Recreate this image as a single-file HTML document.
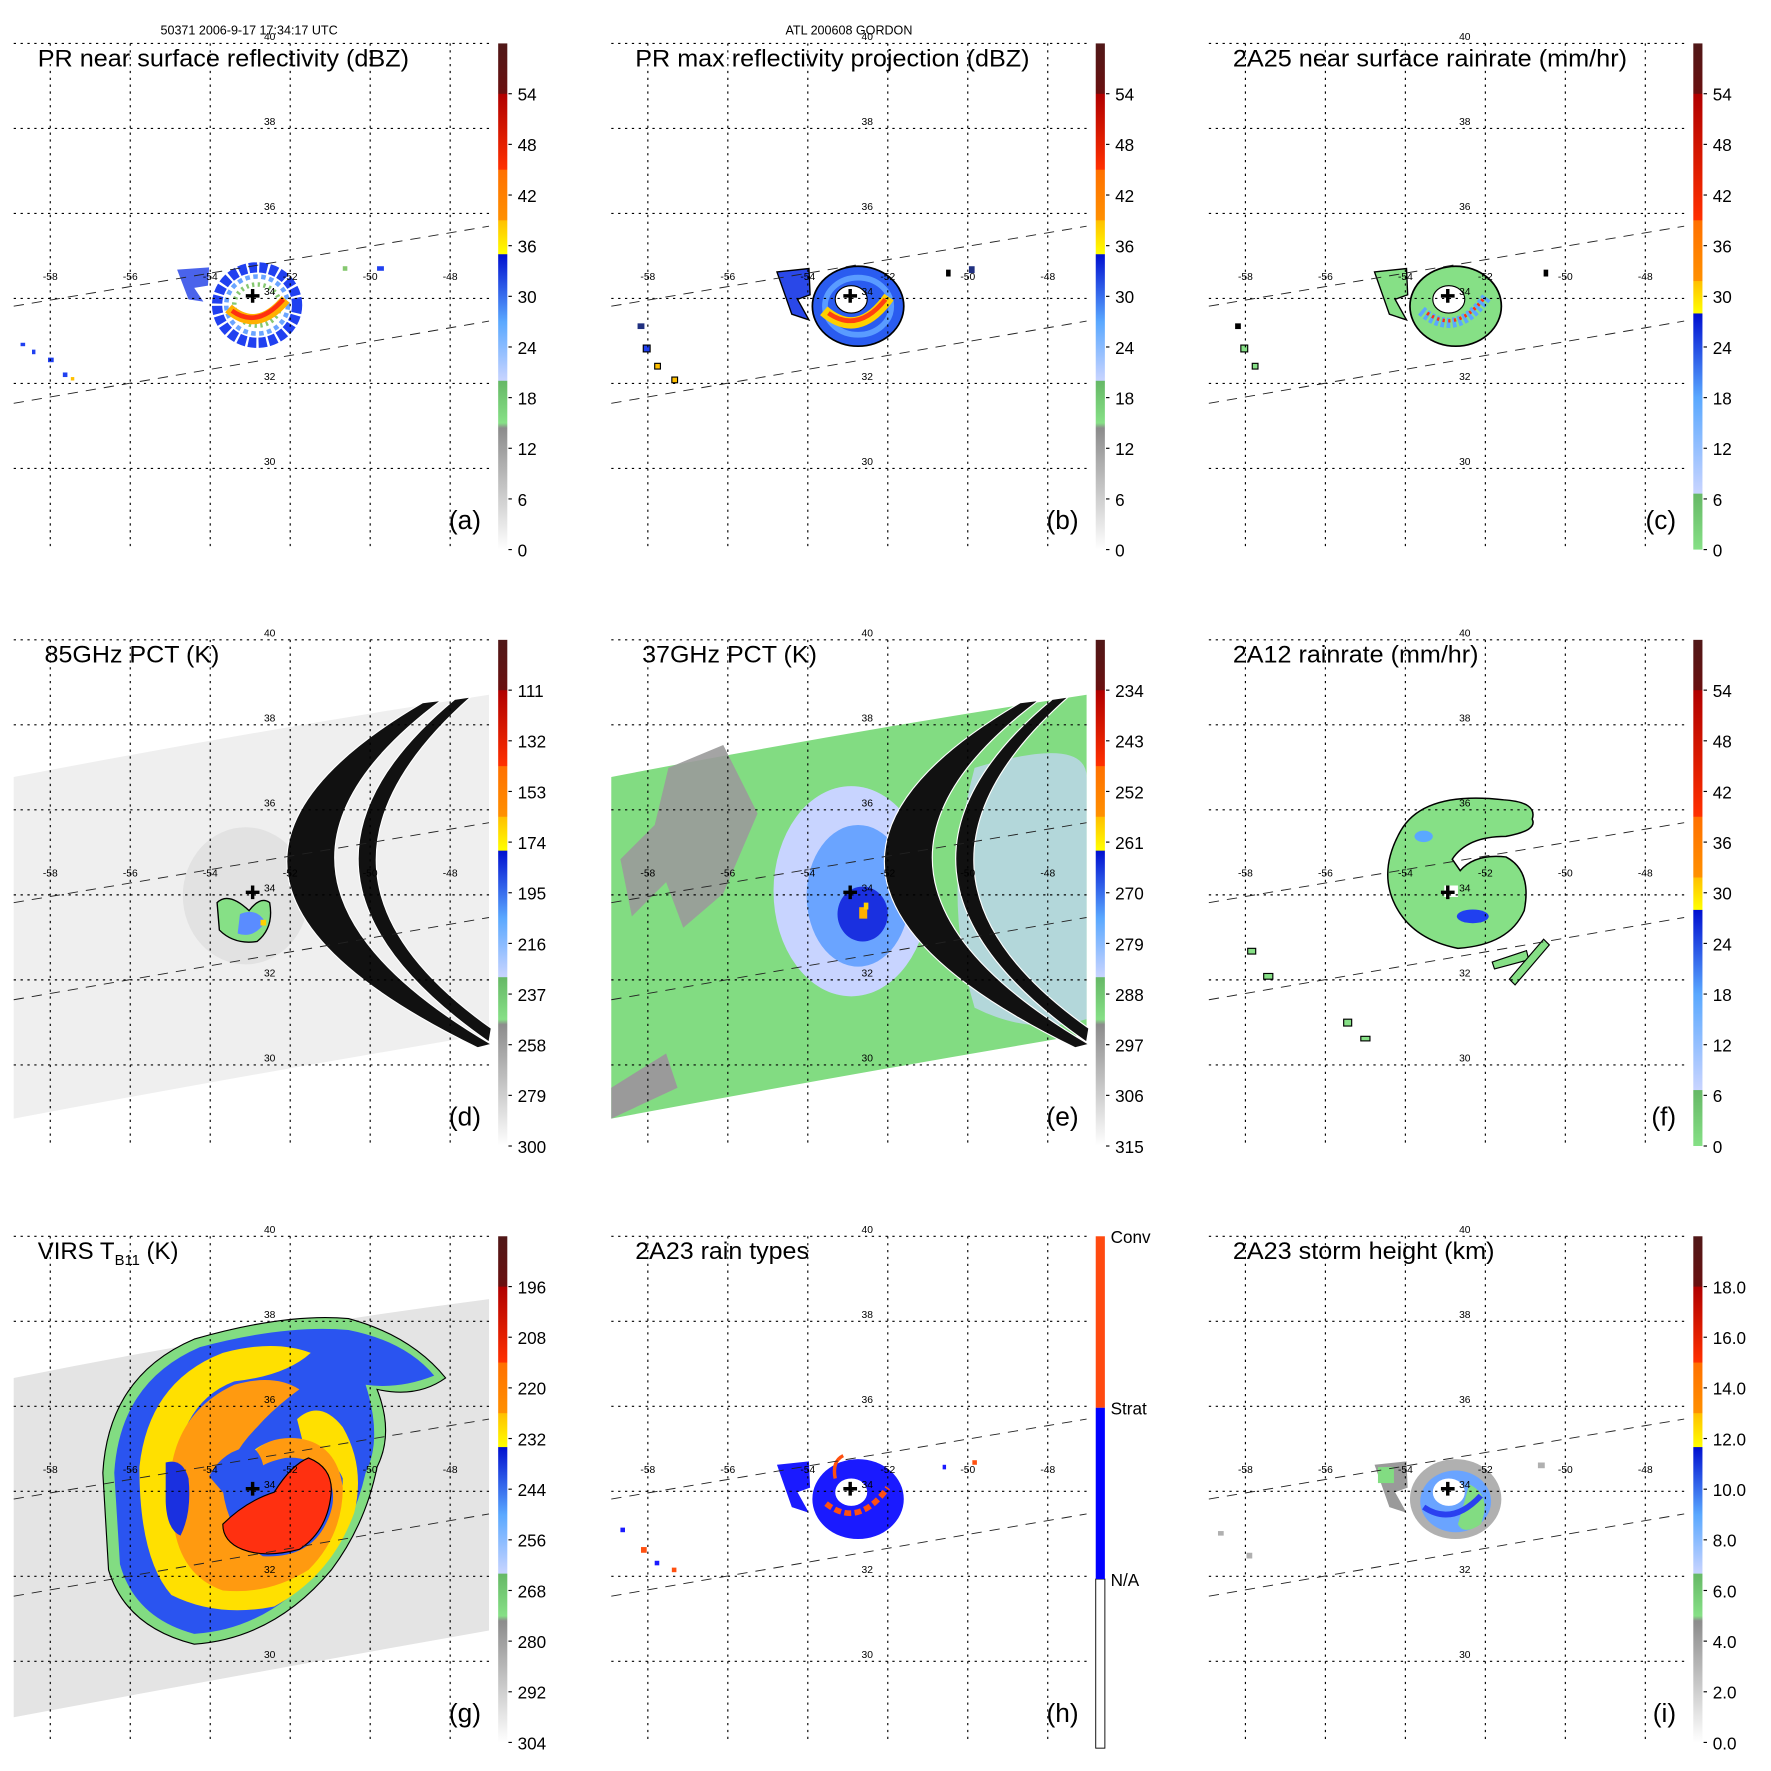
<!DOCTYPE html>
<html><head><meta charset="utf-8"><style>
html,body{margin:0;padding:0;background:#fff;}
svg{display:block;font-family:"Liberation Sans",sans-serif;}
</style></head><body>
<svg id="fig" width="1771" height="1771" viewBox="0 0 1550 1550" xmlns="http://www.w3.org/2000/svg">
<defs>
<linearGradient id="cmStd" x1="0" y1="1" x2="0" y2="0">
<stop offset="0" stop-color="#ffffff"/><stop offset="0.24" stop-color="#8c8c8c"/>
<stop offset="0.25" stop-color="#86e086"/><stop offset="0.333" stop-color="#66b866"/>
<stop offset="0.334" stop-color="#c8d4ff"/><stop offset="0.45" stop-color="#5aa8ff"/><stop offset="0.583" stop-color="#0010d0"/>
<stop offset="0.584" stop-color="#ffff00"/><stop offset="0.65" stop-color="#ffc000"/>
<stop offset="0.651" stop-color="#ff9000"/><stop offset="0.75" stop-color="#ff7000"/>
<stop offset="0.751" stop-color="#ff3000"/><stop offset="0.9" stop-color="#b00000"/>
<stop offset="0.901" stop-color="#6a1010"/><stop offset="1" stop-color="#501818"/>
</linearGradient>
<linearGradient id="cmRain" x1="0" y1="1" x2="0" y2="0">
<stop offset="0" stop-color="#86e086"/><stop offset="0.11" stop-color="#66b866"/>
<stop offset="0.111" stop-color="#c8d4ff"/><stop offset="0.3" stop-color="#5aa8ff"/><stop offset="0.466" stop-color="#0010d0"/>
<stop offset="0.467" stop-color="#ffff00"/><stop offset="0.53" stop-color="#ffc000"/>
<stop offset="0.531" stop-color="#ff9000"/><stop offset="0.65" stop-color="#ff7000"/>
<stop offset="0.651" stop-color="#ff3000"/><stop offset="0.9" stop-color="#b00000"/>
<stop offset="0.901" stop-color="#6a1010"/><stop offset="1" stop-color="#501818"/>
</linearGradient>
</defs>
<text x="218" y="30" font-size="11" text-anchor="middle">50371 2006-9-17 17:34:17 UTC</text>
<text x="743" y="30" font-size="11" text-anchor="middle">ATL 200608 GORDON</text>
</svg>
<script>
// ---- colorbar tick label arrays ----
const ticksA = ["0","6","12","18","24","30","36","42","48","54"];
const ticksD = ["300","279","258","237","216","195","174","153","132","111"];
const ticksE = ["315","306","297","288","279","270","261","252","243","234"];
const ticksG = ["304","292","280","268","256","244","232","220","208","196"];
const ticksI = ["0.0","2.0","4.0","6.0","8.0","10.0","12.0","14.0","16.0","18.0"];
const ticksH = ["N/A","Strat","Conv"];
const gridLons = [-58,-56,-54,-52,-50,-48];
const gridLats = [40,38,36,34,32,30];
const stormCenter = [-52.94, 34.06];

const NS="http://www.w3.org/2000/svg";
const fig=document.getElementById('fig');
function xLon(l){return 44+(l+58)*35;}
function yLat(l){return 38+(40-l)*37.2;}
function el(tag,attrs,parent){const e=document.createElementNS(NS,tag);for(const k in attrs)e.setAttribute(k,attrs[k]);parent.appendChild(e);return e;}

const panels=[
 {id:'a',ox:0,oy:0,title:'PR near surface reflectivity (dBZ)',tx:33,tw:325,cm:'cmStd',ticks:ticksA},
 {id:'b',ox:523,oy:0,title:'PR max reflectivity projection (dBZ)',tx:33,tw:345,cm:'cmStd',ticks:ticksA},
 {id:'c',ox:1046,oy:0,title:'2A25 near surface rainrate (mm/hr)',tx:33,tw:345,cm:'cmRain',ticks:ticksA},
 {id:'d',ox:0,oy:522,title:'85GHz PCT (K)',tx:39,tw:153,cm:'cmStd',ticks:ticksD},
 {id:'e',ox:523,oy:522,title:'37GHz PCT (K)',tx:39,tw:153,cm:'cmStd',ticks:ticksE},
 {id:'f',ox:1046,oy:522,title:'2A12 rainrate (mm/hr)',tx:33,tw:215,cm:'cmRain',ticks:ticksA},
 {id:'g',ox:0,oy:1044,title:'VIRS',tx:33,tw:0,cm:'cmStd',ticks:ticksG},
 {id:'h',ox:523,oy:1044,title:'2A23 rain types',tx:33,tw:152,cm:'h',ticks:ticksH},
 {id:'i',ox:1046,oy:1044,title:'2A23 storm height (km)',tx:33,tw:229,cm:'cmStd',ticks:ticksI}
];

const swathPoly='M12,158 Q220,118 428,86 L428,383 Q220,418 12,457 Z';
const crescents='<path d="M370,93 Q110,245 418,395 L430,392 Q180,245 386,91 Z" fill="#111" stroke="#fff" stroke-width="1"/>'+
 '<path d="M398,90 Q215,242 428,390 L430,378 Q238,242 412,88 Z" fill="#111" stroke="#fff" stroke-width="1"/>';

const art={
a:`<path d="M155,236 L183,234 L182,250 L170,252 L178,264 L165,262 Z" fill="#2a48e8" opacity="0.85"/>
<ellipse cx="225" cy="267" rx="35" ry="33" fill="none" stroke="#2040f0" stroke-width="9" stroke-dasharray="7,2"/>
<ellipse cx="225" cy="267" rx="27" ry="25" fill="none" stroke="#6aa4ff" stroke-width="4" stroke-dasharray="4,3"/>
<ellipse cx="225" cy="267" rx="20" ry="18" fill="none" stroke="#86c870" stroke-width="4" stroke-dasharray="2,3"/>
<path d="M200,270 Q225,292 250,262" fill="none" stroke="#ffb000" stroke-width="9"/>
<path d="M203,272 Q225,288 248,262" fill="none" stroke="#ff3010" stroke-width="4"/>
<rect x="18" y="300" width="4" height="3" fill="#2040f0"/><rect x="28" y="306" width="3" height="4" fill="#2040f0"/>
<rect x="42" y="313" width="5" height="4" fill="#2040f0"/><rect x="55" y="326" width="4" height="4" fill="#2040f0"/>
<rect x="62" y="330" width="3" height="3" fill="#ffc000"/><rect x="300" y="233" width="4" height="4" fill="#86c870"/>
<rect x="330" y="233" width="6" height="4" fill="#2040f0"/>`,
b:`<path d="M157,238 L185,235 L186,258 L175,262 L185,280 L170,275 Z" fill="#2a48e8" stroke="#000" stroke-width="1.2"/>
<ellipse cx="228" cy="268" rx="40" ry="35" fill="#2a5cf0" stroke="#000" stroke-width="1.5"/>
<ellipse cx="228" cy="268" rx="29" ry="25" fill="none" stroke="#5a9cff" stroke-width="5"/>
<path d="M198,272 Q228,298 255,260" fill="none" stroke="#ffd000" stroke-width="10"/>
<path d="M202,274 Q228,292 252,262" fill="none" stroke="#ff4010" stroke-width="4"/>
<ellipse cx="222" cy="262" rx="14" ry="12" fill="#fff" stroke="#000" stroke-width="1"/>
<rect x="35" y="283" width="6" height="5" fill="#203080"/><rect x="40" y="302" width="6" height="6" fill="#2040f0" stroke="#000"/>
<rect x="50" y="318" width="5" height="5" fill="#ffc000" stroke="#000"/><rect x="65" y="330" width="5" height="5" fill="#ffc000" stroke="#000"/>
<rect x="305" y="236" width="4" height="6" fill="#000"/><rect x="325" y="233" width="5" height="6" fill="#203080"/>`,
c:`<path d="M157,238 L185,235 L186,258 L175,262 L185,280 L170,275 Z" fill="#86e086" stroke="#000" stroke-width="1.2"/>
<ellipse cx="228" cy="268" rx="40" ry="35" fill="#86e086" stroke="#000" stroke-width="1.5"/>
<path d="M198,272 Q228,298 255,260" fill="none" stroke="#5aa8ff" stroke-width="9" stroke-dasharray="3,2"/>
<path d="M203,274 Q228,292 252,262" fill="none" stroke="#ff3010" stroke-width="3" stroke-dasharray="2,3"/>
<ellipse cx="222" cy="262" rx="14" ry="12" fill="#fff" stroke="#000" stroke-width="1"/>
<rect x="35" y="283" width="5" height="5" fill="#000"/><rect x="40" y="302" width="6" height="6" fill="#86e086" stroke="#000"/>
<rect x="50" y="318" width="5" height="5" fill="#86e086" stroke="#000"/><rect x="305" y="236" width="4" height="6" fill="#000"/>`,
d:`<path d="${swathPoly}" fill="#efefef"/>
<ellipse cx="215" cy="262" rx="55" ry="60" fill="#d0d0d0" opacity="0.4"/>
<path d="M190,268 Q200,258 218,275 Q228,262 236,268 Q240,290 225,302 Q205,305 192,292 Z" fill="#86e086" stroke="#000" stroke-width="1.2"/>
<path d="M210,278 Q225,272 232,285 Q222,300 208,295 Z" fill="#5a8cff"/>
<rect x="228" y="283" width="5" height="5" fill="#ffd000"/>${crescents}`,
e:`<path d="${swathPoly}" fill="#82dc82"/>
<path d="M62,150 L110,130 L140,190 L110,260 L75,290 L60,250 L30,280 L20,230 L50,200 Z" fill="#9a9a9a" opacity="0.9"/>
<path d="M12,430 L60,400 L70,430 L12,457 Z" fill="#9a9a9a"/>
<ellipse cx="222" cy="258" rx="68" ry="92" fill="#c8d4ff"/>
<ellipse cx="228" cy="262" rx="45" ry="62" fill="#6aa4ff"/>
<ellipse cx="232" cy="278" rx="22" ry="24" fill="#1a30e0"/>
<rect x="229" y="272" width="7" height="10" fill="#ffb000"/><rect x="233" y="268" width="4" height="6" fill="#ffd000"/>
<path d="M330,150 Q430,120 428,160 L428,370 Q380,385 330,360 Q300,260 330,150 Z" fill="#c8d4ff" opacity="0.7"/>${crescents}`,
f:`<path d="M295,195 Q300,180 270,178 Q200,170 180,205 Q160,240 175,270 Q190,300 230,308 Q275,305 288,275 Q295,240 272,228 Q245,225 232,240 L225,230 Q238,210 272,210 Q300,205 295,195 Z" fill="#86e086" stroke="#000" stroke-width="1.3"/>
<rect x="218" y="253" width="12" height="10" fill="#fff"/>
<ellipse cx="243" cy="280" rx="14" ry="6" fill="#2040f0"/><ellipse cx="200" cy="210" rx="8" ry="5" fill="#5aa8ff"/>
<path d="M260,320 L290,310 L292,318 L262,326 Z" fill="#86e086" stroke="#000"/>
<path d="M275,335 L305,300 L310,305 L280,340 Z" fill="#86e086" stroke="#000"/>
<rect x="46" y="308" width="7" height="5" fill="#86e086" stroke="#000"/><rect x="60" y="330" width="8" height="5" fill="#86e086" stroke="#000"/>
<rect x="130" y="370" width="7" height="6" fill="#86e086" stroke="#000"/><rect x="145" y="385" width="8" height="4" fill="#86e086" stroke="#000"/>`,
g:`<path d="M12,162 Q220,120 428,93 L428,383 Q220,420 12,459 Z" fill="#e4e4e4"/>
<path d="M90,245 Q95,160 170,128 Q250,105 305,110 Q360,125 390,162 Q365,180 330,172 Q345,210 330,240 Q320,290 290,330 Q240,390 170,395 Q110,380 95,330 Z" fill="#82dc82" stroke="#000" stroke-width="1"/>
<path d="M100,245 Q105,165 175,135 Q250,115 305,120 Q355,130 380,160 Q350,172 320,168 Q335,215 320,245 Q310,290 282,325 Q235,382 170,386 Q118,372 105,325 Z" fill="#2a54f0"/>
<path d="M122,240 Q130,165 195,140 Q240,128 272,140 Q250,160 205,165 Q165,180 155,230 Q150,300 200,330 Q250,330 280,300 Q300,280 300,250 Q290,225 250,228 Q235,235 225,240 L215,232 Q235,210 265,218 L260,198 Q280,180 300,205 Q320,240 310,280 Q290,335 240,362 Q190,372 150,352 Q122,320 122,240 Z" fill="#ffe000"/>
<path d="M150,240 Q158,190 205,168 Q240,158 262,172 Q240,188 225,205 Q200,230 195,260 Q200,300 230,318 Q270,320 285,290 Q298,265 285,245 Q270,230 250,232 Q235,235 228,240 L218,232 Q232,212 262,215 Q295,220 300,258 Q300,300 270,330 Q235,352 195,348 Q158,335 152,290 Z" fill="#ff9a10"/>
<path d="M195,290 Q215,270 240,262 Q255,238 270,232 Q290,240 290,260 Q288,295 262,312 Q232,320 212,312 Q195,305 195,290 Z" fill="#ff3010" stroke="#000" stroke-width="1"/>
<path d="M183,248 Q195,225 220,222 Q235,232 230,262 Q210,268 195,262 Z" fill="#2a54f0"/>
<path d="M145,236 Q160,232 165,250 Q168,280 158,300 Q146,295 145,270 Z" fill="#1a30e0"/>`,
h:`<path d="M157,238 L185,235 L186,258 L175,262 L185,280 L170,275 Z" fill="#1a1aff"/>
<ellipse cx="228" cy="268" rx="40" ry="35" fill="#1a1aff"/>
<path d="M200,272 Q228,294 254,258" fill="none" stroke="#ff5010" stroke-width="5" stroke-dasharray="6,3"/>
<path d="M208,250 Q205,235 215,230" fill="none" stroke="#ff5010" stroke-width="3"/>
<ellipse cx="222" cy="262" rx="14" ry="12" fill="#fff"/>
<rect x="20" y="293" width="4" height="4" fill="#1a1aff"/><rect x="38" y="310" width="5" height="5" fill="#ff5010"/>
<rect x="50" y="322" width="4" height="4" fill="#1a1aff"/><rect x="65" y="328" width="4" height="4" fill="#ff5010"/>
<rect x="302" y="238" width="3" height="4" fill="#1a1aff"/><rect x="328" y="234" width="4" height="4" fill="#ff5010"/>`,
i:`<path d="M157,238 L185,235 L186,258 L175,262 L185,280 L170,275 Z" fill="#9a9a9a"/>
<rect x="160" y="240" width="14" height="14" fill="#82dc82"/>
<ellipse cx="228" cy="268" rx="40" ry="35" fill="#b0b0b0"/>
<ellipse cx="228" cy="270" rx="31" ry="27" fill="#6aa4ff"/>
<path d="M240,255 Q260,265 250,290 Q235,300 230,290 Z" fill="#82dc82"/>
<path d="M200,275 Q225,292 250,265" fill="none" stroke="#2a40f0" stroke-width="5"/>
<ellipse cx="222" cy="262" rx="14" ry="12" fill="#fff"/>
<rect x="20" y="296" width="5" height="4" fill="#b0b0b0"/><rect x="45" y="315" width="5" height="5" fill="#b0b0b0"/>
<rect x="300" y="236" width="6" height="5" fill="#b0b0b0"/>`
};

panels.forEach(p=>{
  const g=el('g',{transform:`translate(${p.ox},${p.oy})`},fig);
  
  
  const data=el('g',{},g);
  
  
  data.innerHTML=art[p.id];
  gridLats.forEach(l=>{
    const ln=el('line',{x1:12,x2:430,y1:yLat(l),y2:yLat(l),stroke:'#000','stroke-width':1,'stroke-dasharray':'2,4'},g);
    
    
    const t=el('text',{x:236,y:yLat(l)-3,'font-size':9,'text-anchor':'middle'},g);
    
    
    t.textContent=String(l);
  });
  gridLons.forEach(l=>{
    const ln=el('line',{x1:xLon(l),x2:xLon(l),y1:38,y2:482,stroke:'#000','stroke-width':1,'stroke-dasharray':'2,4'},g);
    
    
    const t=el('text',{x:xLon(l),y:245,'font-size':9,'text-anchor':'middle'},g);
    
    
    t.textContent=String(l);
  });
  [[268,198],[353,281]].forEach(s=>{
    const ln=el('line',{x1:12,y1:s[0],x2:428,y2:s[1],stroke:'#222','stroke-width':0.8,'stroke-dasharray':'9,7'},g);
    
    
  });
  const cx=xLon(stormCenter[0]),cy=yLat(stormCenter[1]);
  const cr=el('path',{d:`M${cx-6},${cy} H${cx+6} M${cx},${cy-6} V${cy+6}`,stroke:'#000','stroke-width':3},g);
  
  
  const tt=el('text',{x:p.tx,y:58,'font-size':21},g);
  
  
  if(p.id==='g'){tt.innerHTML='VIRS T<tspan font-size="13" dy="5">B11</tspan><tspan dy="-5"> (K)</tspan>';}
  else {tt.textContent=p.title;tt.setAttribute('textLength',p.tw);tt.setAttribute('lengthAdjust','spacingAndGlyphs');}
  const lt=el('text',{x:421,y:463,'font-size':23,'text-anchor':'end'},g);
  
  
  lt.textContent='('+p.id+')';
  const cb=el('g',{},g);
  
  
  if(p.cm==='h'){
    el('rect',{x:436,y:338,width:8,height:148,fill:'#fff',stroke:'#000','stroke-width':0.8},cb);
    el('rect',{x:436,y:188,width:8,height:150,fill:'#0000ff'},cb);
    el('rect',{x:436,y:38,width:8,height:150,fill:'#ff4a10'},cb);
    [338,188,38].forEach((y,i)=>{
      const t=el('text',{x:449,y:y+6,'font-size':15},cb);
      
      
      t.textContent=p.ticks[i];
    });
  } else {
    el('rect',{x:436,y:38,width:8,height:443,fill:`url(#${p.cm})`},cb);
    p.ticks.forEach((lab,i)=>{
      const y=481-i*44.33;
      el('line',{x1:445,x2:448,y1:y,y2:y,stroke:'#000','stroke-width':1},cb);
      const t=el('text',{x:453,y:y+6,'font-size':15},cb);
      
      
      t.textContent=lab;
    });
  }
});
</script>
</body></html>
